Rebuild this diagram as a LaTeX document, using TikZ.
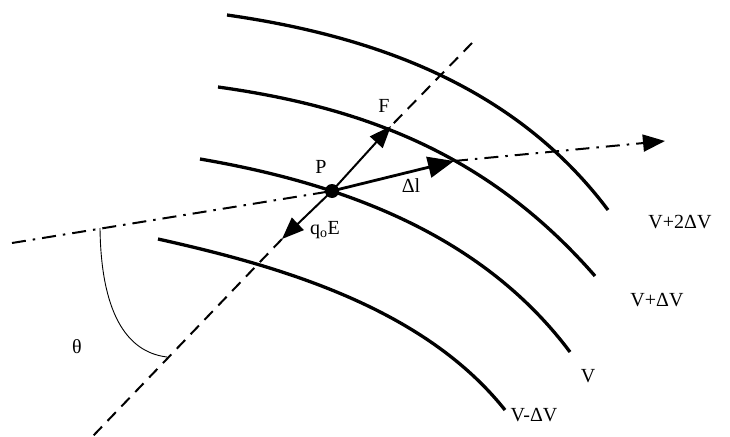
\documentclass[tikz,border=0pt]{standalone}
\usepackage{fontspec}
\setmainfont{Liberation Serif}
\usetikzlibrary{arrows.meta}

\begin{document}
\begin{tikzpicture}[x=1pt, y=-1pt, >={Triangle[length=22pt,width=17pt]},
  every node/.style={font=\fontsize{20}{24}\selectfont, inner sep=0pt},
  level/.style={line width=3.3pt},
  fieldline/.style={line width=2pt, dash pattern=on 12pt off 8pt},
  pathline/.style={line width=2pt, dash pattern=on 14pt off 7pt on 2.5pt off 7pt},
  vec/.style={->, line width=2pt}]
  \useasboundingbox (0,0) rectangle (730,436);
  \coordinate (f1) at (472,43);  \coordinate (f2) at (93,436);
  \coordinate (s1) at (12,243);  \coordinate (s2) at (665,141);
  \coordinate (Ftip) at (391,126);
  \coordinate (dltip) at (454,161);
  \coordinate (Etip) at (282,239);
  \coordinate (th1) at (100,228); \coordinate (th2) at (167,357);
  % Field line, hidden under the vectors
  \draw[fieldline] (f1)--(Ftip);
  \draw[fieldline] (Etip)--(f2);
  % Equipotential surfaces
  \draw[level] (227,15) .. controls (374,36) and (515,86) .. (608,210);
  \draw[level] (218,87) .. controls (369,108) and (491,157) .. (595,276);
  \draw[level] (200,159) .. controls (340,183) and (481,233) .. (570,352);
  \draw[level] (158,239) .. controls (279,266) and (423,307) .. (505,410);
  % Charge at P and vectors
  \node[circle, fill, minimum size=14pt] (P) at (332,191) {};
  \draw[pathline] (s1)--(P.center);
  \draw[pathline, ->] (dltip)--(s2);
  \draw[vec] (P.center)--(Ftip);
  \draw[vec, line width=2.8pt, >={Triangle[length=26pt,width=21pt]}] (P.center)--(dltip);
  \draw[vec] (P.center)--(Etip);
  \draw[line width=0.9pt] (th1) .. controls (101,310) and (125,352) .. (th2);
  % Labels
  \node (Plbl) at (321,167) {P};
  \node (Flbl) at (384,106) {F};
  \node (dllbl) at (411,186) {Δl};
  \node (Elbl) at (325,230) {q\textsubscript{o}E};
  \node (thlbl) at (77,347) {θ};
  \node (v2lbl) at (680,222) {V+2ΔV};
  \node (v1lbl) at (657,300) {V+ΔV};
  \node (v0lbl) at (588,376) {V};
  \node (vmlbl) at (534,415) {V-ΔV};
\end{tikzpicture}
\end{document}
